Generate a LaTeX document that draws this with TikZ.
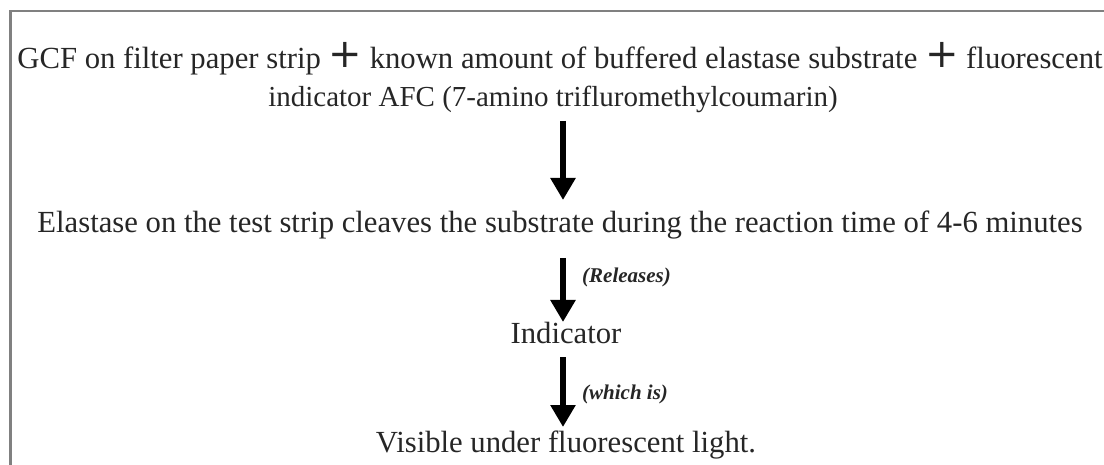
\documentclass[tikz,border=0pt]{standalone}
\usepackage{fontspec}
\setmainfont{Liberation Serif}
\newfontfamily\plusfont{DejaVu Sans}
\usetikzlibrary{arrows.meta}
\newcommand{\bigplus}{\raisebox{0.06em}{\fontsize{40}{40}\selectfont\plusfont +}}
\tikzset{
  txt/.style={anchor=base, inner sep=0pt, font=\fontsize{30.7}{34}\selectfont, text=black!85},
  lbl/.style={anchor=base west, inner sep=0pt, font=\fontsize{21}{24}\selectfont\bfseries\itshape, text=black!85},
  flow/.style={line width=5.5pt, -{Triangle[width=24pt,length=22pt]}, black},
  frame/.style={line width=2.5pt, draw=black!50}
}
\begin{document}
\begin{tikzpicture}[x=1pt,y=-1pt]
\useasboundingbox (0,0) rectangle (1104,465);
\coordinate (fbl) at (10.5,466);
\coordinate (ftl) at (10.5,11);
\coordinate (ftr) at (1105,11);
\draw[frame] (fbl) -- (ftl) -- (ftr);
\node[txt] (l1) at (560,69) {GCF on filter paper strip \bigplus{} known amount of buffered elastase substrate \bigplus{} fluorescent};
\node[txt, font=\fontsize{29}{33}\selectfont] (l2) at (553,107) {indicator AFC (7-amino trifluromethylcoumarin)};
\node[txt] (l3) at (560,233) {Elastase on the test strip cleaves the substrate during the reaction time of 4-6 minutes};
\node[txt] (l4) at (566,343) {Indicator};
\node[txt] (l5) at (566,452) {Visible under fluorescent light.};
\coordinate (a1s) at (563,121);
\coordinate (a1e) at (563,200);
\coordinate (a2s) at (563,258);
\coordinate (a2e) at (563,322);
\coordinate (a3s) at (563,357);
\coordinate (a3e) at (563,427);
\draw[flow] (a1s) -- (a1e);
\draw[flow] (a2s) -- (a2e);
\draw[flow] (a3s) -- (a3e);
\node[lbl] (r) at (582,283) {(Releases)};
\node[lbl] (w) at (582,399) {(which is)};
\end{tikzpicture}
\end{document}
